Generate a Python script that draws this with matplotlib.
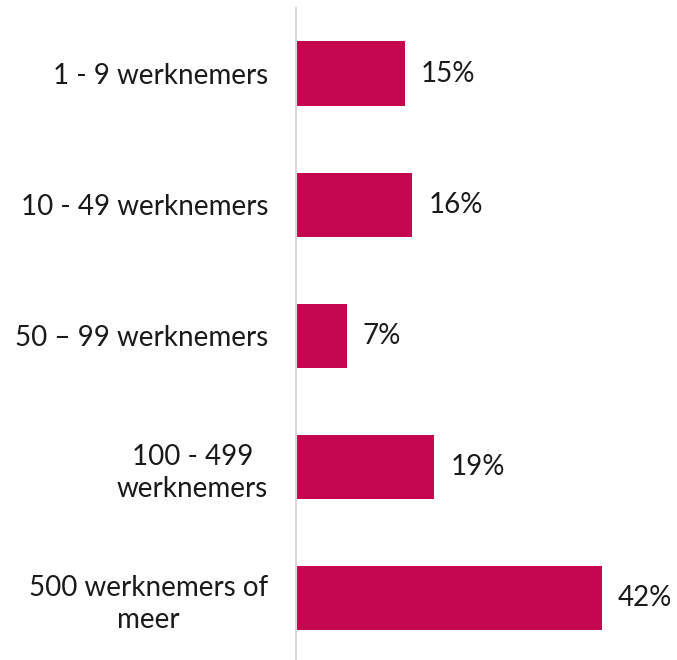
import matplotlib
matplotlib.use("Agg")
import matplotlib.pyplot as plt

categories = ["1 - 9 werknemers", "10 - 49 werknemers", "50 \u2013 99 werknemers",
              "100 - 499\nwerknemers", "500 werknemers of\nmeer"]
values = [15, 16, 7, 19, 42]
value_labels = ["15%", "16%", "7%", "19%", "42%"]

plt.rcParams['font.family'] = ['Lato', 'DejaVu Sans']

fig = plt.figure(figsize=(6.77, 6.6), dpi=100)
ax = fig.add_axes([0.437, 0.0, 0.538, 0.988])

pos = list(range(len(categories)))
ax.barh(pos, values, height=0.49, color="#C5074F")
for p, v, lab in zip(pos, values, value_labels):
    ax.annotate(lab, (v, p), xytext=(16, 0), textcoords="offset pixels",
                ha="left", va="center", fontsize=20, color="#1a1a1a")

ax.set_xlim(0, 50)
ax.set_ylim(4.47, -0.5)
ax.set_yticks(pos)
ax.set_yticklabels(categories, fontsize=20, color="#1a1a1a",
                   multialignment="center", linespacing=1.3)
ax.tick_params(axis="y", length=0, pad=20)
ax.set_xticks([])
for s in ["top", "right", "bottom"]:
    ax.spines[s].set_visible(False)
ax.spines["left"].set_color("#d9d9d9")
ax.spines["left"].set_linewidth(1.5)

fig.savefig("out.png", dpi=100)
